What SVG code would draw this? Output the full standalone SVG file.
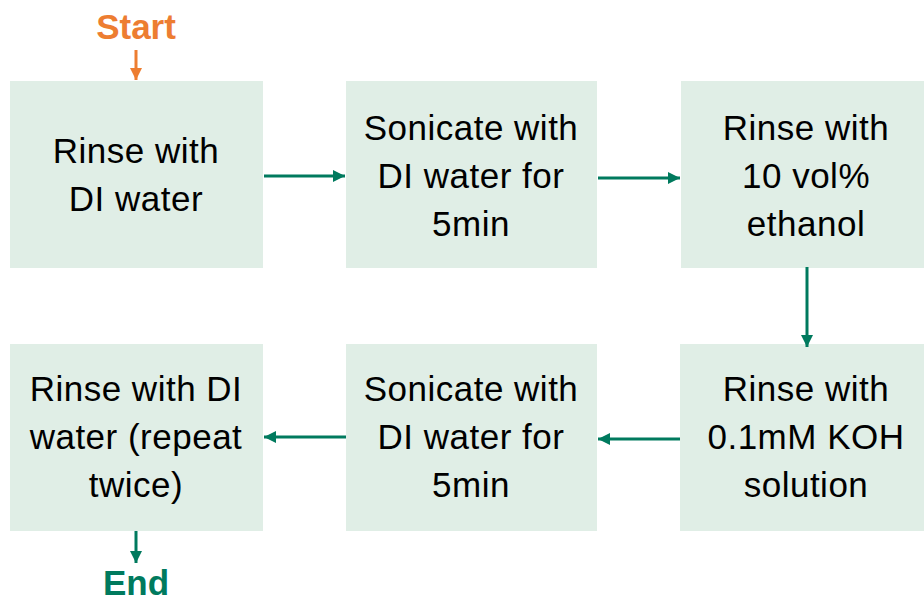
<svg xmlns="http://www.w3.org/2000/svg" width="924" height="601" viewBox="0 0 924 601">
<style>
.box{fill:#E0EEE6;}
.t{font-family:"Liberation Sans",Arial,sans-serif;font-size:35px;letter-spacing:0.5px;fill:#000;text-anchor:middle;}
.c{stroke:#007A5E;stroke-width:3;fill:none;}
.s{font-family:"Liberation Sans",Arial,sans-serif;font-size:35px;font-weight:bold;text-anchor:middle;}
</style>
<defs>
<marker id="ag" viewBox="0 0 10 10" refX="10" refY="5" markerWidth="4" markerHeight="4" orient="auto" markerUnits="strokeWidth"><path d="M0,0 L10,5 L0,10 z" fill="#007A5E"/></marker>
<marker id="ao" viewBox="0 0 10 10" refX="10" refY="5" markerWidth="4" markerHeight="4" orient="auto" markerUnits="strokeWidth"><path d="M0,0 L10,5 L0,10 z" fill="#ED7D31"/></marker>
</defs>
<text class="s" x="136" y="39" fill="#ED7D31">Start</text>
<text class="s" x="136" y="595" fill="#007A5E">End</text>
<g id="n1"><rect class="box" x="10" y="81" width="253" height="187"/><text class="t" x="136" y="163">Rinse with</text><text class="t" x="136" y="211">DI water</text></g>
<g id="n2"><rect class="box" x="346" y="81" width="251" height="187"/><text class="t" x="471" y="140">Sonicate with</text><text class="t" x="471" y="188">DI water for</text><text class="t" x="471" y="236">5min</text></g>
<g id="n3"><rect class="box" x="681" y="81" width="243" height="187"/><text class="t" x="806" y="140">Rinse with</text><text class="t" x="806" y="188">10 vol%</text><text class="t" x="806" y="236">ethanol</text></g>
<g id="n4"><rect class="box" x="680" y="344" width="244" height="187"/><text class="t" x="806" y="401">Rinse with</text><text class="t" x="806" y="449">0.1mM KOH</text><text class="t" x="806" y="497">solution</text></g>
<g id="n5"><rect class="box" x="346" y="344" width="251" height="187"/><text class="t" x="471" y="401">Sonicate with</text><text class="t" x="471" y="449">DI water for</text><text class="t" x="471" y="497">5min</text></g>
<g id="n6"><rect class="box" x="10" y="344" width="253" height="187"/><text class="t" x="136" y="401">Rinse with DI</text><text class="t" x="136" y="449">water (repeat</text><text class="t" x="136" y="497">twice)</text></g>
<g id="connectors">
<line x1="136" y1="50" x2="136" y2="80" style="stroke:#ED7D31;stroke-width:3" marker-end="url(#ao)"/>
<line class="c" x1="264" y1="176" x2="345" y2="176" marker-end="url(#ag)"/>
<line class="c" x1="598" y1="178" x2="680" y2="178" marker-end="url(#ag)"/>
<line class="c" x1="807" y1="267" x2="807" y2="347" marker-end="url(#ag)"/>
<line class="c" x1="680" y1="439" x2="598" y2="439" marker-end="url(#ag)"/>
<line class="c" x1="346" y1="437" x2="264" y2="437" marker-end="url(#ag)"/>
<line class="c" x1="136" y1="531" x2="136" y2="563" marker-end="url(#ag)"/>
</g>
</svg>
